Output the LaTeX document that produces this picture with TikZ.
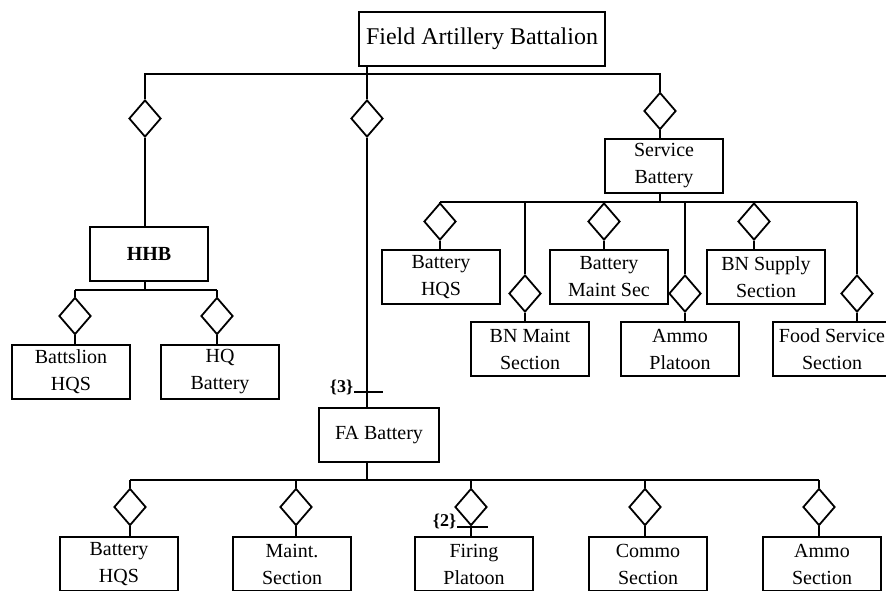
\documentclass[tikz,border=0pt]{standalone}
\usepackage{fontspec}
\setmainfont{Liberation Serif}
\usetikzlibrary{positioning,shapes.geometric}
\begin{document}
\begin{tikzpicture}[x=0.5pt, y=-0.5pt, line width=0.9pt,
    unit/.style={draw, line width=0.9pt, minimum width=59pt, minimum height=27pt, inner sep=1pt,
      align=center, font=\fontsize{10}{13.5}\selectfont},
    link/.style={shape=diamond, draw, line width=0.9pt, minimum width=16pt, minimum height=18.5pt, inner sep=0pt},
    mult/.style={font=\fontsize{9}{10}\selectfont\bfseries, inner sep=0pt}]
  \useasboundingbox (0,0) rectangle (886,590);
  % battalion
  \node[unit, minimum width=123pt, font=\fontsize{12}{14}\selectfont] (fab) at (482,39) {Field Artillery Battalion};
  \coordinate (topbus) at (0,74);
  \node[link] (lhhb) at (145,118.5) {};
  \node[link] (lfa) at (367,118.5) {};
  \node[link] (lsvc) at (660,111) {};
  \draw (lfa.north |- fab.south) -- (lfa.north);
  \draw (lhhb.north) -- (lhhb.north |- topbus) -- (lsvc.north |- topbus) -- (lsvc.north);
  % HHB
  \node[unit, font=\fontsize{10}{13.5}\selectfont\bfseries] (hhb) at (149,254) {HHB};
  \draw (lhhb.south) -- (lhhb.south |- hhb.north);
  \coordinate (hhbbus) at (0,290);
  \foreach \nm/\lx/\bx/\txt in {bnhq/75/71/{Battslion\\HQS}, hqbat/217/220/{HQ\\Battery}}{
    \node[link] (l\nm) at (\lx,316) {};
    \node[unit] (\nm) at (\bx,372) {\txt};
    \draw (l\nm.north |- hhbbus) -- (l\nm.north);
    \draw (l\nm.south) -- (l\nm.south |- \nm.north);}
  \draw (lhhb.south |- hhb.south) -- (lhhb.south |- hhbbus);
  \draw (lbnhq.north |- hhbbus) -- (lhqbat.north |- hhbbus);
  % FA battery
  \node[unit, minimum width=60pt] (fabat) at (379,435) {FA Battery};
  \draw (lfa.south) -- (lfa.south |- fabat.north);
  \node[mult, anchor=east] (m3) at (354,387) {\{3\}};
  \coordinate (m3end) at (383,392);
  \draw[line width=0.7pt] (m3.east |- m3end) -- (m3end);
  \coordinate (fabus) at (0,480);
  \draw (lfa.south |- fabat.south) -- (lfa.south |- fabus);
  \foreach \nm/\lx/\bx/\txt in {fhq/130/119/{Battery\\HQS}, fmnt/296/292/{Maint.\\Section},
      fire/471/474/{Firing\\Platoon}, comm/645/648/{Commo\\Section}, fammo/819/822/{Ammo\\Section}}{
    \node[link] (l\nm) at (\lx,507) {};
    \node[unit] (\nm) at (\bx,564) {\txt};
    \draw (l\nm.north |- fabus) -- (l\nm.north);
    \draw (l\nm.south) -- (l\nm.south |- \nm.north);}
  \draw (lfhq.north |- fabus) -- (lfammo.north |- fabus);
  \node[mult, anchor=east] (m2) at (457,521) {\{2\}};
  \coordinate (m2end) at (488,527);
  \draw[line width=0.7pt] (m2.east |- m2end) -- (m2end);
  % service battery
  \node[unit] (svc) at (664,166) {Service\\Battery};
  \draw (lsvc.south) -- (lsvc.south |- svc.north);
  \coordinate (svcbus) at (0,202);
  \draw (lsvc.south |- svc.south) -- (lsvc.south |- svcbus);
  \foreach \nm/\lx/\ly/\bx/\by/\txt in {shq/440/221.5/441/277/{Battery\\HQS}, bnm/525/293.5/530/349/{BN Maint\\Section},
      bms/604/221.5/609/277/{Battery\\Maint Sec}, ammop/685/293.5/680/349/{Ammo\\Platoon},
      bns/754/221.5/766/277/{BN Supply\\Section}, food/857/293.5/832/349/{Food Service\\Section}}{
    \node[link] (l\nm) at (\lx,\ly) {};
    \node[unit] (\nm) at (\bx,\by) {\txt};
    \draw (l\nm.north |- svcbus) -- (l\nm.north);
    \draw (l\nm.south) -- (l\nm.south |- \nm.north);}
  \draw (lshq.north |- svcbus) -- (lfood.north |- svcbus);
\end{tikzpicture}
\end{document}
